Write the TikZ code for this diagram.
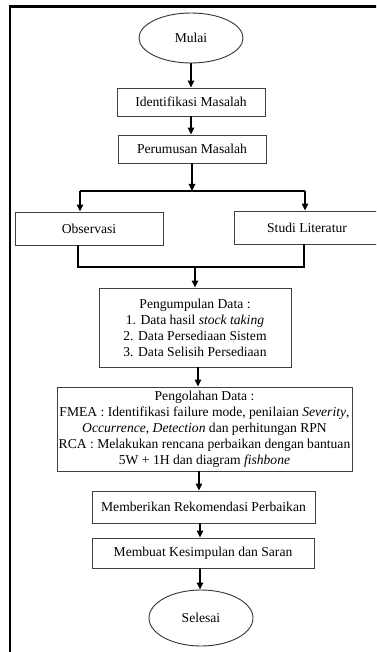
\documentclass[tikz,border=0pt]{standalone}
\usepackage{fontspec}
\setmainfont{Liberation Serif}
\usetikzlibrary{arrows.meta,shapes.geometric}
\newcommand{\fs}{\fontsize{13.6}{16}\selectfont}
\begin{document}
\begin{tikzpicture}[x=1pt,y=-1pt,
  box/.style={draw=black!75, line width=0.9pt, inner sep=0pt, align=center, font=\fs},
  oval/.style={ellipse, draw=black!80, line width=0.9pt, inner sep=0pt, font=\fs},
  arr/.style={draw=black, line width=1.1pt, -{Triangle[length=7pt,width=6.5pt]}},
  ln/.style={draw=black, line width=1.1pt}]
\clip (0,0) rectangle (376,652);
\fill[white] (0,0) rectangle (376,652);
\draw[line width=2.2pt] (10,660) -- (10,6.5) -- (380,6.5);

\node[oval, minimum width=104pt, minimum height=50pt] (mulai) at (191,38) {Mulai};
\node[box, minimum width=148pt, minimum height=28pt] (ident) at (191,102) {Identifikasi Masalah};
\node[box, minimum width=148pt, minimum height=28pt] (rumus) at (192,149) {Perumusan Masalah};
\node[box, minimum width=148pt, minimum height=33pt] (obs) at (89,228.5) {Observasi};
\node[box, minimum width=146pt, minimum height=33pt] (studi) at (307,227.5) {Studi Literatur};
\node[box, minimum width=192pt, minimum height=79pt] (kumpul) at (195,327.5) {Pengumpulan Data :\\1. Data hasil \textit{stock taking}\\2. Data Persediaan Sistem\\3. Data Selisih Persediaan};
\node[box, minimum width=295pt, minimum height=84pt] (olah) at (204.5,429) {Pengolahan Data :\\FMEA : Identifikasi failure mode, penilaian \textit{Severity},\\\textit{Occurrence}, \textit{Detection} dan perhitungan RPN\\RCA : Melakukan rencana perbaikan dengan bantuan\\5W + 1H dan diagram \textit{fishbone}};
\node[box, minimum width=223pt, minimum height=32pt] (rekom) at (203.5,507) {Memberikan Rekomendasi Perbaikan};
\node[box, minimum width=222pt, minimum height=30pt] (simpul) at (203,553) {Membuat Kesimpulan dan Saran};
\node[oval, minimum width=104pt, minimum height=56pt] (selesai) at (201,618) {Selesai};

\coordinate (bj) at (192,191);
\coordinate (bl) at (80,191);
\coordinate (br) at (305,191);
\coordinate (jl) at (78,267);
\coordinate (jr) at (304,267);
\coordinate (jm) at (195,267);

\draw[arr] (mulai.south) -- (mulai.south |- ident.north);
\draw[arr] (ident.south) -- (ident.south |- rumus.north);
\draw[arr] (rumus.south) -- (bj);
\draw[ln] (bl) -- (br);
\draw[arr] (bl) -- (bl |- obs.north);
\draw[arr] (br) -- (br |- studi.north);
\draw[ln] (jl |- obs.south) -- (jl) -- (jr) -- (jr |- studi.south);
\draw[arr] (jm) -- (jm |- kumpul.north);
\draw[arr] ([xshift=3pt]kumpul.south) -- ([xshift=3pt]kumpul.south |- olah.north);
\draw[arr] ([xshift=-5.5pt]olah.south) -- ([xshift=-5.5pt]olah.south |- rekom.north);
\draw[arr] ([xshift=-3.5pt]rekom.south) -- ([xshift=-3.5pt]rekom.south |- simpul.north);
\draw[arr] ([xshift=-3pt]simpul.south) -- ([xshift=-3pt]simpul.south |- selesai.north);
\end{tikzpicture}
\end{document}
